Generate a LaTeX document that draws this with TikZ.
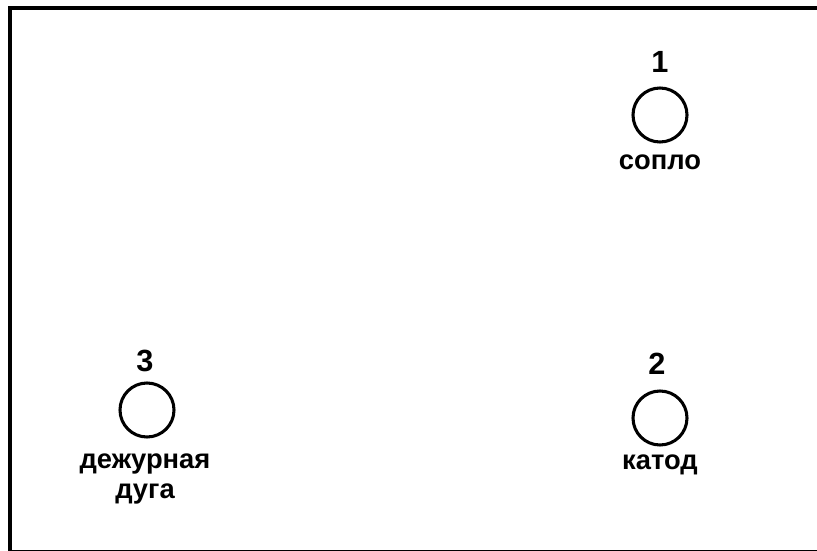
\documentclass[tikz,border=0pt]{standalone}
\usepackage{fontspec}
\setmainfont{Liberation Sans}
\begin{document}
\begin{tikzpicture}[x=0.75pt,y=-0.75pt,
  port/.style={circle,draw,line width=2.3pt,minimum size=40.5pt,inner sep=0pt},
  num/.style={font=\fontsize{23}{26}\selectfont\bfseries,inner sep=0pt},
  lab/.style={font=\fontsize{20.5}{22}\selectfont\bfseries,inner sep=0pt,align=center}]
\useasboundingbox (0,0) rectangle (817,550);
\clip (0,0) rectangle (817,550);
\draw[line width=3pt] (9.5,8) rectangle (840,552);
% port 1
\node[port] (c1) at (660,115) {};
\node[num] (n1) at (660,62) {1};
\node[lab] (l1) at (660,162) {сопло};
% port 2
\node[port] (c2) at (660,418) {};
\node[num] (n2) at (657,364) {2};
\node[lab] (l2) at (660,465) {катод};
% port 3
\node[port] (c3) at (147,410) {};
\node[num] (n3) at (145,361) {3};
\node[lab] (l3) at (145,479) {дежурная\\дуга};
\end{tikzpicture}
\end{document}
